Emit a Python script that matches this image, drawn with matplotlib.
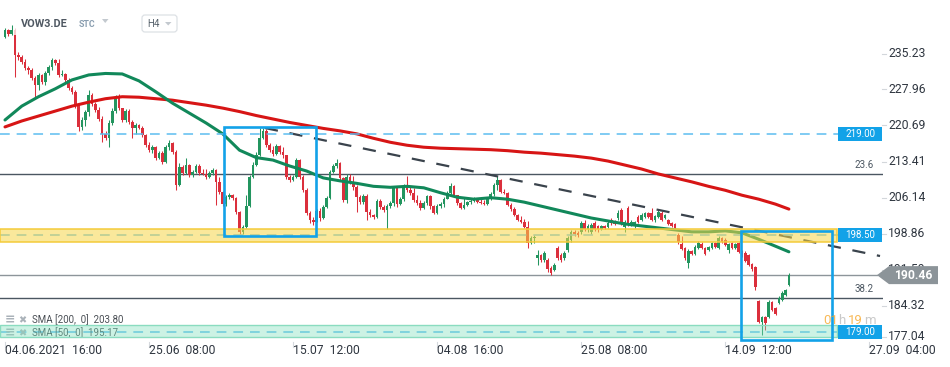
import numpy as np
import matplotlib.pyplot as plt
import matplotlib.transforms as mtransforms
from matplotlib.patches import Rectangle, Polygon, FancyBboxPatch

plt.rcParams['font.family'] = ['Roboto', 'DejaVu Sans']
plt.rcParams['lines.scale_dashes'] = False

# ---- VOW3.DE, H4 candles ----
opens = [
    238.6, 240.0, 239.2, 240.0, 234.9, 234.5, 233.5, 232.3, 231.9, 230.3,
    228.9, 230.9, 229.5, 231.3, 232.5, 233.9, 233.3, 230.9, 231.1, 229.9,
    228.3, 227.5, 224.8, 220.4, 221.8, 223.4, 226.9, 225.0, 223.8, 222.0,
    219.0, 218.2, 221.2, 223.6, 226.2, 224.2, 221.8, 223.6, 221.4, 220.2,
    220.8, 220.2, 218.8, 216.7, 215.7, 216.3, 214.1, 215.1, 213.3, 216.3,
    217.2, 215.3, 208.7, 212.3, 211.1, 212.7, 210.7, 211.3, 212.5, 211.1,
    210.9, 210.3, 211.1, 211.7, 209.3, 207.2, 204.8, 206.2, 206.6, 206.0,
    203.2, 199.2, 200.2, 204.4, 210.3, 212.7, 214.7, 218.2, 219.6, 216.7,
    215.7, 214.9, 216.5, 215.3, 214.7, 210.3, 209.7, 210.3, 213.7, 210.3,
    207.6, 203.0, 201.6, 201.2, 203.4, 202.0, 204.2, 206.0, 211.3, 212.5,
    213.1, 210.1, 205.6, 210.3, 209.3, 208.2, 206.2, 205.2, 206.4, 203.2,
    202.6, 202.2, 205.4, 204.2, 203.6, 204.4, 205.0, 208.0, 204.8, 205.8,
    208.4, 207.6, 207.0, 205.6, 205.0, 204.0, 205.0, 206.4, 204.4, 203.0,
    204.4, 204.8, 205.8, 207.0, 208.4, 206.6, 205.0, 204.0, 204.6, 205.2,
    205.4, 205.8, 205.2, 205.0, 204.8, 205.8, 206.8, 208.7, 209.7, 207.2,
    207.0, 204.6, 203.8, 202.6, 201.6, 201.2, 200.2, 196.9, 198.0, 193.9,
    194.5, 193.5, 193.5, 191.9, 191.5, 195.9, 194.5, 193.9, 195.5, 197.6,
    199.2, 199.0, 199.2, 201.0, 199.8, 199.2, 201.0, 200.4, 199.8, 200.4,
    200.2, 201.6, 201.2, 202.0, 203.6, 200.2, 204.0, 200.6, 200.4, 202.2,
    201.6, 202.2, 203.0, 203.0, 201.6, 202.2, 203.0, 202.0, 201.6, 201.0,
    200.8, 198.6, 196.7, 195.9, 192.9, 195.3, 194.7, 195.9, 196.7, 195.9,
    195.5, 195.9, 196.9, 195.9, 198.0, 197.6, 195.5, 196.9, 195.9, 196.9,
    195.1, 194.9, 194.5, 192.7, 192.1, 185.2, 181.0, 182.0, 182.0, 185.0,
    183.8, 184.8, 185.4, 186.4, 188.5,
]
highs = [
    240.4, 240.2, 241.0, 240.4, 235.5, 234.9, 234.1, 232.7, 232.3, 230.7,
    231.3, 231.1, 231.7, 232.9, 234.3, 234.1, 234.1, 231.9, 231.3, 230.3,
    228.7, 227.9, 225.2, 222.4, 223.8, 227.9, 227.3, 225.4, 224.4, 222.6,
    219.6, 221.8, 224.2, 226.9, 227.1, 224.2, 224.0, 224.0, 221.8, 221.2,
    221.0, 220.6, 219.0, 217.4, 216.7, 216.5, 215.5, 215.5, 216.7, 217.8,
    217.4, 215.7, 213.1, 212.7, 214.1, 212.9, 211.7, 212.9, 212.9, 211.9,
    211.9, 211.5, 212.1, 211.9, 210.3, 207.4, 206.6, 207.0, 206.8, 206.2,
    203.4, 200.6, 206.6, 210.7, 213.3, 215.3, 220.2, 220.2, 220.0, 217.2,
    216.5, 217.0, 216.7, 216.3, 214.8, 210.7, 210.7, 214.1, 213.9, 210.7,
    208.0, 203.4, 202.2, 203.8, 204.0, 204.6, 206.4, 211.7, 212.9, 213.9,
    213.3, 210.3, 210.9, 210.9, 210.5, 208.7, 206.6, 206.8, 206.8, 203.8,
    202.8, 205.8, 205.8, 204.6, 204.8, 205.4, 208.4, 208.4, 206.2, 208.9,
    210.5, 208.4, 208.0, 206.6, 205.6, 205.4, 206.6, 206.6, 204.6, 204.8,
    205.2, 206.2, 207.4, 209.1, 208.7, 206.6, 205.2, 206.0, 205.4, 205.8,
    206.2, 206.0, 205.8, 205.6, 206.2, 207.2, 209.1, 210.5, 209.9, 207.8,
    207.2, 205.0, 204.2, 202.8, 202.4, 201.8, 201.4, 198.4, 198.6, 195.5,
    194.7, 195.3, 193.9, 192.3, 192.9, 196.3, 194.9, 195.3, 198.4, 199.6,
    199.6, 199.4, 201.4, 201.6, 200.8, 201.0, 201.4, 200.6, 200.6, 200.6,
    201.4, 202.0, 201.6, 203.6, 204.0, 201.6, 204.4, 201.6, 201.4, 202.6,
    203.0, 203.2, 203.2, 204.0, 202.6, 203.6, 203.4, 202.8, 201.8, 201.2,
    201.0, 199.0, 198.4, 196.1, 195.7, 195.5, 196.5, 197.4, 197.1, 196.1,
    196.3, 197.1, 197.1, 198.4, 198.2, 198.0, 196.9, 197.1, 196.9, 197.1,
    195.5, 195.3, 194.7, 192.9, 192.3, 185.4, 182.2, 182.2, 185.4, 185.2,
    184.0, 186.2, 187.2, 187.6, 190.9,
]
lows = [
    238.4, 238.8, 239.0, 230.5, 233.9, 233.1, 231.9, 231.1, 229.9, 226.2,
    227.9, 229.1, 228.9, 230.9, 231.9, 232.9, 230.5, 230.7, 229.5, 227.9,
    227.1, 224.2, 219.6, 219.8, 220.6, 222.6, 224.6, 223.4, 221.6, 217.4,
    217.8, 216.3, 220.8, 223.2, 223.8, 221.4, 221.4, 221.0, 218.2, 219.0,
    220.0, 218.4, 216.3, 215.3, 215.1, 213.7, 213.9, 212.9, 213.1, 215.7,
    214.9, 207.6, 208.4, 210.7, 210.9, 210.3, 210.3, 211.1, 210.7, 210.7,
    209.9, 210.1, 210.7, 204.6, 206.8, 204.4, 204.4, 205.8, 205.6, 202.8,
    198.8, 198.8, 200.0, 204.2, 210.1, 212.5, 214.5, 218.0, 216.3, 215.3,
    214.5, 214.7, 214.9, 214.1, 209.9, 209.3, 209.5, 210.1, 209.9, 207.2,
    202.6, 201.0, 200.6, 201.2, 201.4, 201.8, 204.0, 205.8, 211.1, 212.1,
    209.7, 205.2, 205.0, 208.9, 207.6, 203.2, 204.8, 204.8, 201.6, 202.2,
    201.8, 202.0, 203.8, 203.2, 199.8, 204.0, 204.4, 204.2, 204.6, 205.4,
    207.2, 206.6, 205.2, 204.6, 203.6, 203.8, 204.6, 203.8, 202.8, 202.8,
    204.0, 204.2, 205.8, 206.8, 206.2, 204.6, 203.8, 203.8, 204.4, 204.8,
    205.2, 205.0, 204.8, 204.6, 204.6, 205.6, 206.4, 207.6, 207.0, 206.8,
    204.4, 203.4, 202.4, 201.4, 201.0, 200.0, 195.9, 196.7, 196.9, 192.5,
    193.1, 193.1, 191.1, 190.5, 191.3, 193.5, 193.1, 193.5, 195.1, 197.1,
    198.4, 198.2, 198.8, 199.4, 199.2, 198.8, 199.4, 199.2, 199.6, 199.8,
    200.0, 200.6, 200.6, 201.6, 200.6, 199.2, 200.4, 200.4, 200.0, 201.0,
    201.4, 202.0, 202.0, 201.4, 201.2, 202.0, 201.4, 201.8, 200.6, 200.2,
    199.8, 196.7, 195.5, 193.5, 191.9, 194.5, 194.5, 195.7, 195.7, 194.5,
    195.3, 195.7, 195.9, 195.7, 196.9, 196.3, 194.9, 195.7, 195.7, 194.9,
    194.1, 193.1, 192.3, 191.3, 187.4, 180.8, 178.4, 179.4, 181.8, 183.2,
    182.4, 184.6, 185.2, 186.2, 188.3,
]
closes = [
    240.0, 239.2, 240.0, 234.9, 234.5, 233.5, 232.3, 231.9, 230.3, 228.9,
    230.9, 229.5, 231.3, 232.5, 233.9, 233.3, 230.9, 231.1, 229.9, 228.3,
    227.5, 224.8, 220.4, 221.8, 223.4, 226.9, 225.0, 223.8, 222.0, 219.0,
    218.2, 221.2, 223.6, 226.2, 224.2, 221.8, 223.6, 221.4, 220.2, 220.8,
    220.2, 218.8, 216.7, 215.7, 216.3, 214.1, 215.1, 213.3, 216.3, 217.2,
    215.3, 208.7, 212.3, 211.1, 212.7, 210.7, 211.3, 212.5, 211.1, 210.9,
    210.3, 211.1, 211.7, 209.3, 207.2, 204.8, 206.2, 206.6, 206.0, 203.2,
    199.2, 200.2, 204.4, 210.3, 212.7, 214.7, 218.2, 219.6, 216.7, 215.7,
    214.9, 216.5, 215.3, 214.7, 210.3, 209.7, 210.3, 213.7, 210.3, 207.6,
    203.0, 201.6, 201.2, 203.4, 202.0, 204.2, 206.0, 211.3, 212.5, 213.1,
    210.1, 205.6, 210.3, 209.3, 208.2, 206.2, 205.2, 206.4, 203.2, 202.6,
    202.2, 205.4, 204.2, 203.6, 204.4, 205.0, 208.0, 204.8, 205.8, 208.4,
    207.6, 207.0, 205.6, 205.0, 204.0, 205.0, 206.4, 204.4, 203.0, 204.4,
    204.8, 205.8, 207.0, 208.4, 206.6, 205.0, 204.0, 204.6, 205.2, 205.4,
    205.8, 205.2, 205.0, 204.8, 205.8, 206.8, 208.7, 209.7, 207.2, 207.0,
    204.6, 203.8, 202.6, 201.6, 201.2, 200.2, 196.9, 198.0, 198.2, 194.5,
    193.5, 194.9, 191.7, 190.9, 192.5, 193.9, 193.5, 194.9, 198.0, 199.2,
    198.8, 198.6, 201.0, 199.8, 200.4, 200.6, 199.8, 199.8, 200.4, 200.0,
    201.0, 201.0, 200.8, 203.0, 201.0, 201.2, 200.6, 201.2, 201.2, 201.2,
    202.6, 203.0, 202.2, 201.6, 202.4, 203.2, 201.6, 202.6, 200.8, 200.4,
    200.0, 197.1, 195.7, 193.9, 195.3, 194.7, 196.1, 196.9, 195.9, 194.7,
    196.1, 196.9, 196.1, 198.0, 197.1, 196.5, 196.7, 195.9, 196.7, 195.1,
    194.3, 193.3, 192.5, 191.7, 188.1, 181.0, 182.0, 180.8, 185.0, 183.4,
    182.6, 185.8, 186.8, 187.4, 190.46,
]

# moving averages, read every 5th candle
sma_idx = list(range(0, 231, 5)) + [234]
sma200 = [
    220.4, 221.6, 222.6, 223.6, 224.6, 225.4, 226.1, 226.5, 226.4, 226.1,
    225.8, 225.3, 224.8, 224.2, 223.5, 222.7, 222.0, 221.3, 220.7, 220.1,
    219.6, 219.0, 218.1, 217.3, 216.7, 216.3, 216.1, 216.0, 215.9, 215.8,
    215.6, 215.3, 215.1, 214.8, 214.5, 214.1, 213.5, 212.7, 211.9, 210.9,
    210.1, 209.3, 208.4, 207.6, 206.6, 205.8, 204.8, 203.80,
]
sma50 = [
    221.8, 224.6, 226.5, 228.1, 229.9, 230.9, 231.2, 231.1, 229.7, 227.5,
    225.2, 223.2, 221.2, 219.0, 215.7, 214.2, 213.7, 212.5, 211.5, 210.1,
    209.5, 209.0, 208.4, 208.2, 208.4, 208.1, 207.1, 206.2, 205.8, 206.1,
    205.8, 205.2, 204.4, 203.6, 202.8, 202.0, 201.4, 200.8, 200.4, 200.0,
    199.6, 199.2, 199.2, 199.4, 199.0, 197.7, 196.3, 195.17,
]

tick_idx = [0, 43, 86, 129, 172, 215, 258]
tick_labels = ['04.06.2021  16:00', '25.06  08:00', '15.07  12:00', '04.08  16:00',
               '25.08  08:00', '14.09  12:00', '27.09  04:00']
price_ticks = [177.04, 184.32, 191.59, 198.86, 206.14, 213.41, 220.69, 227.96, 235.23]

level_219 = 219.00
level_198 = 198.50
level_179 = 179.00
zone_198 = (197.15, 199.78)
zone_179 = (177.96, 180.38)
fib_levels = [('23.6', 210.89), ('38.2', 185.83)]
trend_start = (77.6, 220.18)
trend_end = (261.2, 194.32)
box_a = (65.4, 198.36, 92.8, 220.38)
box_b = (219.7, 177.35, 246.9, 199.37)

# ---- style ----
UP, DOWN = '#23955f', '#db2f3c'
RED_MA, GREEN_MA = '#d71515', '#11885a'
BLUE = '#12a2e8'
TXT = '#2f3640'

W, H = 950, 367
PR, PB = 883, 342          # plot right / bottom in pixels
X0, STEP = 5, 3.35         # first candle x, candle spacing (px)

fig = plt.figure(figsize=(W / 100, H / 100), dpi=100)
ax = fig.add_axes([0, 1 - PB / H, PR / W, PB / H])
ax.set_xlim(-X0 / STEP, (PR - X0) / STEP)
ax.set_ylim(176.95, 246.04)
ax.set_autoscale_on(False)
ax.axis('off')

pix = mtransforms.Affine2D().scale(1, -1).translate(0, H)   # pixels from top-left


def py(p):
    return H - ax.transData.transform((0, p))[1]


def px(i):
    return ax.transData.transform((i, 0))[0]


# candles
o = np.array(opens)
c = np.array(closes)
idx = np.arange(len(c))
col = np.where(c >= o, UP, DOWN)
ax.vlines(idx, lows, highs, colors=col, lw=0.75, zorder=2)
ax.bar(idx, np.maximum(np.abs(c - o), 0.15), bottom=np.minimum(o, c), width=0.78,
       color=col, lw=0, zorder=2.1)

# moving averages
ax.plot(sma_idx, sma200, color=RED_MA, lw=2.2, zorder=3, solid_capstyle='round')
ax.plot(sma_idx, sma50, color=GREEN_MA, lw=2.2, zorder=3, solid_capstyle='round')

# fib + last price lines
for name, lvl in fib_levels:
    ax.axhline(lvl, color='#4b5661', lw=1.0, zorder=1)
    ax.text(874, py(lvl) - 9, name, transform=pix, ha='right', va='center',
            fontsize=7, color='#4b5661')
ax.axhline(closes[-1], 0, 877 / PR, color='#8d959a', lw=1.0, zorder=1)

# trend line
ax.plot([trend_start[0], trend_end[0]], [trend_start[1], trend_end[1]],
        color='#3a434c', lw=1.6, ls=(0, (9.5, 8.5)), zorder=3)

# dashed horizontal levels
for lvl in (level_219, level_198, level_179):
    ax.axhline(lvl, 0, 838 / PR, color='#5cbdf0', lw=1.1, ls=(0, (7, 5)), zorder=3)

# SMA legend (sits under the green zone)
for k, (name, vals) in enumerate([('SMA [200,  0]', sma200), ('SMA [50,  0]', sma50)]):
    yy = 320 + 13 * k
    ax.text(5, yy, '\u2261', transform=pix, fontsize=9, color='#aab2b9',
            va='center', family=['DejaVu Sans'], fontweight='bold', zorder=3.5)
    ax.text(18, yy, '\u2716', transform=pix, fontsize=7, color='#aab2b9',
            va='center', family=['DejaVu Sans'], zorder=3.5)
    ax.text(32, yy, f'{name}  {vals[-1]:.2f}', transform=pix, fontsize=7,
            color='#4a4f55', va='center', zorder=3.5)

# zones
yb = ax.get_yaxis_transform()
ax.add_patch(Rectangle((0, zone_198[0]), 837 / PR, zone_198[1] - zone_198[0],
                       transform=yb, facecolor=(0.97, 0.84, 0.29, 0.55),
                       edgecolor='#f4cb3a', lw=1.1, zorder=4))
ax.add_patch(Rectangle((0, zone_179[0]), 837 / PR, zone_179[1] - zone_179[0],
                       transform=yb, facecolor=(0.50, 0.88, 0.74, 0.40),
                       edgecolor='#8adcc0', lw=1.0, zorder=4))

# blue boxes
for i0, p0, i1, p1 in (box_a, box_b):
    ax.add_patch(Rectangle((i0, p0), i1 - i0, p1 - p0, fill=False,
                           edgecolor=BLUE, lw=1.9, zorder=5))

# countdown
for txt, xx, cc in (('01', 823, '#f6a21f'), ('h', 838, '#b8b8b8'),
                    ('19', 848, '#f6a21f'), ('m', 864, '#b8b8b8')):
    ax.text(xx, 321, txt, transform=pix, fontsize=9.5, color=cc, alpha=0.75,
            va='center', zorder=5.5)

# level boxes on the right
for lvl in (level_219, level_198, level_179):
    y = py(lvl)
    ax.add_patch(Rectangle((838, y - 7), 44, 14, transform=pix, facecolor=BLUE,
                           edgecolor='none', clip_on=False, zorder=6))
    ax.text(860, y, f'{lvl:.2f}', transform=pix, ha='center', va='center',
            fontsize=7, color='white', zorder=7)

# price axis
for p in price_ticks:
    y = min(py(p), 337)
    ax.plot([882, 886], [y, y], transform=pix, color='#d3d7db', lw=0.8, clip_on=False)
    ax.text(888, y, f'{p:.2f}', transform=pix, ha='left', va='center',
            fontsize=8.7, color=TXT, zorder=6)

# last price tag
yl = py(closes[-1])
ax.add_patch(Polygon([(877, yl), (889, yl - 9), (938, yl - 9), (938, yl + 9), (889, yl + 9)],
                     closed=True, transform=pix, facecolor='#8c9499', edgecolor='none',
                     clip_on=False, zorder=7))
ax.text(913, yl, f'{closes[-1]:.2f}', transform=pix, ha='center', va='center',
        fontsize=8.7, color='white', fontweight='bold', zorder=8)

# time axis
for i, lab in zip(tick_idx, tick_labels):
    x = px(i)
    ax.plot([x, x], [342, 347], transform=pix, color='#d5d9dd', lw=0.8, clip_on=False)
    ax.text(x, 351, lab, transform=pix, ha='left', va='center', fontsize=8.7,
            color=TXT, zorder=6)

# header
ax.add_patch(Rectangle((13, 11), 170, 24, transform=pix, facecolor='white',
                       alpha=0.75, edgecolor='none', clip_on=False, zorder=8))
ax.text(21, 24, 'VOW3.DE', transform=pix, fontsize=7.8, fontweight='bold',
        color='#4f5862', va='center', zorder=9)
ax.text(79, 24.5, 'STC', transform=pix, fontsize=6.3, fontweight='bold',
        color='#8a9eb0', va='center', zorder=9)
ax.add_patch(Polygon([(102, 19), (108.5, 19), (105.2, 23)], transform=pix,
                     facecolor='#c3c9cf', edgecolor='none', clip_on=False, zorder=9))
ax.add_patch(FancyBboxPatch((142, 15), 35, 17, boxstyle='round,pad=0,rounding_size=3',
                            transform=pix, facecolor='white', edgecolor='#dde1e5',
                            lw=0.9, clip_on=False, zorder=9))
ax.text(147, 24, 'H4', transform=pix, fontsize=7, color='#55606a', va='center', zorder=10)
ax.add_patch(Polygon([(165, 22), (171.5, 22), (168.2, 25.5)], transform=pix,
                     facecolor='#c3c9cf', edgecolor='none', clip_on=False, zorder=10))

fig.savefig('out.png', dpi=100, facecolor='white')
